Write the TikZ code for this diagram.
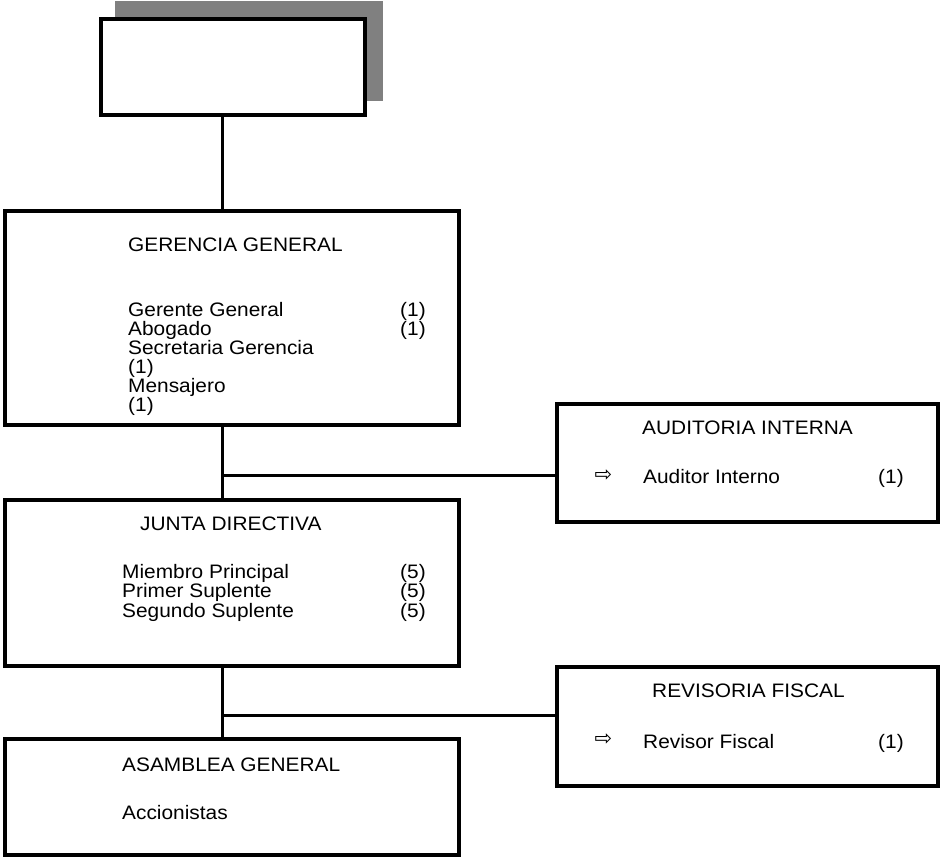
\documentclass[tikz,border=0pt]{standalone}
\usepackage{fontspec}
\setmainfont{Liberation Sans}[FakeStretch=1.07]
\newfontfamily\arrowfont{DejaVu Sans}
\begin{document}
\begin{tikzpicture}[x=1pt,y=-1pt,
  unit/.style={draw=black,line width=4pt,fill=white,rectangle,inner sep=0pt},
  link/.style={line width=3pt},
  txt/.style={anchor=base west,inner sep=0pt,font=\fontsize{19.5}{19.5}\selectfont},
  pointer/.style={inner sep=0pt,font=\arrowfont\fontsize{21}{21}\selectfont}]
\useasboundingbox (0,0) rectangle (941,860);

% top box with its grey shadow
\fill[gray] (115,1) rectangle (383,101);
\node[unit,minimum width=264pt,minimum height=96pt] (top) at (233,67) {};

% department boxes
\node[unit,minimum width=454pt,minimum height=214pt] (gg) at (232,318) {};
\node[unit,minimum width=454pt,minimum height=166pt] (jd) at (232,583) {};
\node[unit,minimum width=454pt,minimum height=116pt] (ag) at (232,797) {};
\node[unit,minimum width=381pt,minimum height=118pt] (ai) at (747.5,463) {};
\node[unit,minimum width=381pt,minimum height=119pt] (rf) at (747.5,726.5) {};

% connectors along the vertical spine
\coordinate (spine) at (222,0);
\coordinate (j1) at (222,475);
\coordinate (j2) at (222,715);
\draw[link] (top.south -| spine) -- (gg.north -| spine);
\draw[link] (gg.south -| spine) -- (jd.north -| spine);
\draw[link] (jd.south -| spine) -- (ag.north -| spine);
\draw[link] (j1) -- (j1 -| ai.west);
\draw[link] (j2) -- (j2 -| rf.west);

% GERENCIA GENERAL
\node[txt] (ggt) at (128,251) {GERENCIA GENERAL};
\node[txt] (gg1) at (128,316) {Gerente General};
\node[txt] (gg1n) at (400,316) {(1)};
\node[txt] (gg2) at (128,335) {Abogado};
\node[txt] (gg2n) at (400,335) {(1)};
\node[txt] (gg3) at (128,354) {Secretaria Gerencia};
\node[txt] (gg3n) at (128,373) {(1)};
\node[txt] (gg4) at (128,392) {Mensajero};
\node[txt] (gg4n) at (128,411) {(1)};

% JUNTA DIRECTIVA
\node[txt] (jdt) at (140,530) {JUNTA DIRECTIVA};
\node[txt] (jd1) at (122,578) {Miembro Principal};
\node[txt] (jd1n) at (400,578) {(5)};
\node[txt] (jd2) at (122,597.5) {Primer Suplente};
\node[txt] (jd2n) at (400,597.5) {(5)};
\node[txt] (jd3) at (122,617) {Segundo Suplente};
\node[txt] (jd3n) at (400,617) {(5)};

% ASAMBLEA GENERAL
\node[txt] (agt) at (122,771) {ASAMBLEA GENERAL};
\node[txt] (ag1) at (122,819) {Accionistas};

% AUDITORIA INTERNA
\node[txt] (ait) at (642,434) {AUDITORIA INTERNA};
\node[pointer] (aip) at (603.5,476) {⇨};
\node[txt] (ai1) at (643,483) {Auditor Interno};
\node[txt] (ai1n) at (878,483) {(1)};

% REVISORIA FISCAL
\node[txt] (rft) at (652,697) {REVISORIA FISCAL};
\node[pointer] (rfp) at (603.5,740) {⇨};
\node[txt] (rf1) at (643,748) {Revisor Fiscal};
\node[txt] (rf1n) at (878,748) {(1)};
\end{tikzpicture}
\end{document}
